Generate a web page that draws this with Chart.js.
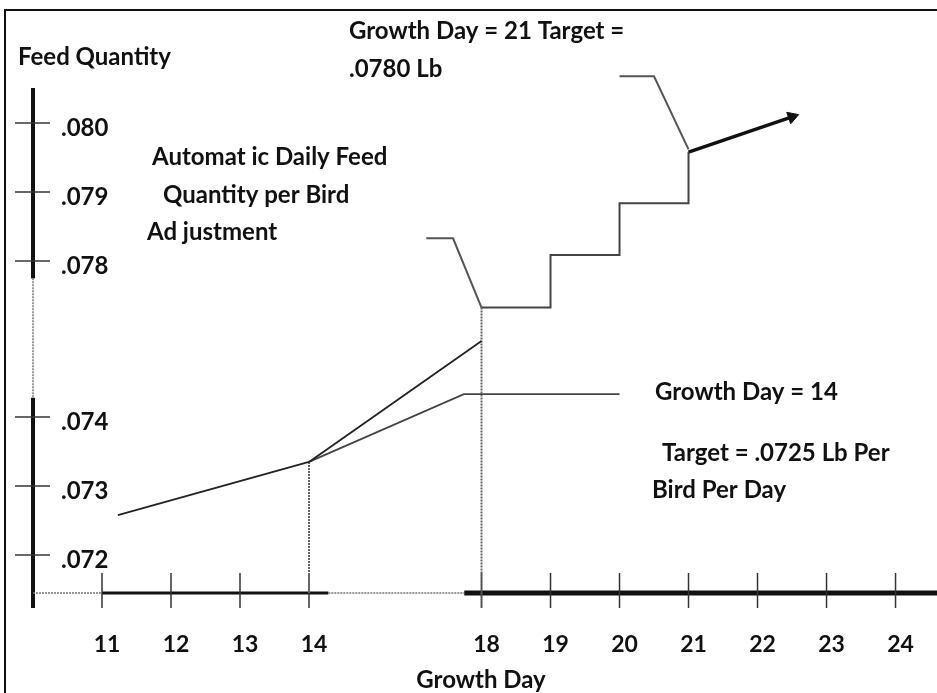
<!DOCTYPE html>
<html>
<head>
<meta charset="utf-8">
<script src="https://cdn.jsdelivr.net/npm/chart.js@4.4.1/dist/chart.umd.min.js"></script>
<style>
  body { margin: 0; background: #fff; }
  canvas { display: block; }
</style>
</head>
<body>
<canvas id="grafico" width="937" height="693"></canvas>
<script>
// eixos (rótulos)
const dayTicks = [11, 12, 13, 14, 18, 19, 20, 21, 22, 23, 24];
const qtyTicks = [0.072, 0.073, 0.074, 0.078, 0.079, 0.080];
const qtyLabels = ['.072', '.073', '.074', '.078', '.079', '.080'];

// séries (dia, quantidade em lb)
const baseDays = [11.23, 14];
const baseQty = [0.07258, 0.07335];
const adjustedDays = [14, 18];
const adjustedQty = [0.07335, 0.07595];
const targetDays = [14, 17.59, 20.0];
const targetQty = [0.07335, 0.07459, 0.07459];
const stepDays = [18, 19, 19, 20, 20, 21, 21];
const stepQty = [0.07681, 0.07681, 0.07809, 0.07809, 0.07884, 0.07884, 0.07958];
const arrowDays = [21, 22.5];
const arrowQty = [0.07958, 0.08009];
const leader1Days = [16.72, 17.34, 18];
const leader1Qty = [0.07833, 0.07833, 0.07681];
const leader2Days = [20.0, 20.5, 21];
const leader2Qty = [0.08068, 0.08068, 0.07962];

// eixos quebrados: 14 -> 18 e .074 -> .078 comprimidos
function dayPos(d) {
  if (d <= 14) return d - 11;
  if (d >= 18) return 5.5 + (d - 18);
  return 3 + (d - 14) / 4 * 2.5;
}
function qtyPos(q) {
  if (q <= 0.074) return (q - 0.072) * 1000;
  if (q >= 0.078) return 4.26 + (q - 0.078) * 1000;
  return 2 + (q - 0.074) / 0.004 * 2.26;
}
function serie(days, qty) {
  return days.map((d, i) => ({ x: dayPos(d), y: qtyPos(qty[i]) }));
}

const FONTE = 'bold 24px Lato';
const TINTA = '#111';

const desenho = {
  id: 'desenho',
  beforeDraw(chart) {
    const c = chart.ctx;
    c.save();
    c.fillStyle = '#fff';
    c.fillRect(0, 0, chart.width, chart.height);
    c.restore();
  },
  beforeDatasetsDraw(chart) {
    const c = chart.ctx;
    const sx = chart.scales.x, sy = chart.scales.y;
    const a = chart.chartArea;
    c.save();
    c.lineCap = 'butt';
    function seg(x1, y1, x2, y2, w, cor, dash) {
      c.beginPath();
      c.setLineDash(dash || []);
      c.lineWidth = w;
      c.strokeStyle = cor;
      c.moveTo(x1, y1);
      c.lineTo(x2, y2);
      c.stroke();
    }
    const ax = a.left, ay = a.bottom;
    // eixo y
    seg(ax, a.top, ax, sy.getPixelForValue(4.01), 4, '#111');
    seg(ax, sy.getPixelForValue(4.01), ax, sy.getPixelForValue(2.28), 1.5, '#777', [2, 1]);
    seg(ax, sy.getPixelForValue(2.28), ax, ay + 15, 4, '#111');
    // eixo x
    seg(ax, ay, sx.getPixelForValue(0), ay, 1.5, '#777', [2, 1]);
    seg(sx.getPixelForValue(0), ay, sx.getPixelForValue(3.28), ay, 3, '#111');
    seg(sx.getPixelForValue(3.28), ay, sx.getPixelForValue(5.25), ay, 1.5, '#777', [2, 1]);
    seg(sx.getPixelForValue(5.25), ay, chart.width, ay, 5, '#111');
    // marcas
    qtyTicks.forEach(q => {
      const y = sy.getPixelForValue(qtyPos(q));
      seg(ax - 18, y, ax + 17, y, 1.5, '#333');
    });
    dayTicks.forEach(d => {
      const x = sx.getPixelForValue(dayPos(d));
      seg(x, ay - 20, x, ay + 15, 1.5, '#333');
    });
    // guias verticais
    const x14 = sx.getPixelForValue(dayPos(14));
    const x18 = sx.getPixelForValue(dayPos(18));
    seg(x14, sy.getPixelForValue(qtyPos(adjustedQty[0])), x14, ay, 2, '#666', [2, 1]);
    seg(x18, sy.getPixelForValue(qtyPos(stepQty[0])), x18, ay + 15, 2, '#666', [2, 1]);
    c.restore();
  },
  afterDraw(chart) {
    const c = chart.ctx;
    c.save();
    // moldura
    c.strokeStyle = '#111';
    c.lineWidth = 2;
    c.beginPath();
    c.moveTo(5, 693);
    c.lineTo(5, 10);
    c.lineTo(937, 10);
    c.stroke();
    // textos
    c.font = FONTE;
    c.fillStyle = TINTA;
    c.textBaseline = 'middle';
    c.textAlign = 'left';
    const textos = [
      ['Feed Quantity', 18, 57],
      ['Growth Day = 21 Target =', 349, 31],
      ['.0780 Lb', 349, 69],
      ['Automat ic Daily Feed', 152, 157],
      ['Quantity per Bird', 163, 195],
      ['Ad justment', 147, 232],
      ['Growth Day = 14', 655, 392],
      ['Target = .0725 Lb Per', 662, 453],
      ['Bird Per Day', 652, 490]
    ];
    textos.forEach(t => c.fillText(t[0], t[1], t[2]));
    c.textAlign = 'center';
    c.fillText('Growth Day', 481, 680);
    c.restore();
  }
};

const linha = (data, cor, largura) => ({
  data, showLine: true, borderColor: cor, borderWidth: largura,
  pointRadius: 0, fill: false, tension: 0, clip: false
});

const arrowLine = linha(serie(arrowDays, arrowQty), '#111', 3.5);
arrowLine.pointRadius = [0, 7];
arrowLine.pointStyle = 'triangle';
arrowLine.rotation = 71;
arrowLine.pointBackgroundColor = '#111';
arrowLine.pointBorderColor = '#111';
arrowLine.pointBorderWidth = 1;

new Chart(document.getElementById('grafico'), {
  type: 'scatter',
  data: {
    datasets: [
      linha(serie(baseDays, baseQty), '#222', 1.8),
      linha(serie(adjustedDays, adjustedQty), '#222', 1.8),
      linha(serie(targetDays, targetQty), '#444', 1.8),
      linha(serie(stepDays, stepQty), '#444', 2),
      linha(serie(leader1Days, leader1Qty), '#555', 2),
      linha(serie(leader2Days, leader2Qty), '#555', 2),
      arrowLine
    ]
  },
  options: {
    responsive: false,
    animation: false,
    layout: { autoPadding: false, padding: { left: 33, top: 88, right: 0, bottom: 0 } },
    plugins: { legend: { display: false }, tooltip: { enabled: false } },
    scales: {
      x: {
        type: 'linear',
        min: -1,
        max: 12.101,
        grid: { display: false, drawTicks: false },
        border: { display: false },
        afterFit: s => { s.height = 100; s.paddingLeft = 0; s.paddingRight = 0; },
        afterBuildTicks: s => { s.ticks = dayTicks.map(d => ({ value: dayPos(d) })); },
        ticks: {
          padding: 38,
          labelOffset: 5,
          color: TINTA,
          font: { family: 'Lato', size: 23, weight: 'bold' },
          callback: v => {
            const i = dayTicks.findIndex(d => Math.abs(dayPos(d) - v) < 1e-6);
            return i < 0 ? '' : String(dayTicks[i]);
          }
        }
      },
      y: {
        type: 'linear',
        min: -0.55,
        max: 6.769,
        grid: { display: false, drawTicks: false },
        border: { display: false },
        afterFit: s => { s.width = 0; s.paddingTop = 0; s.paddingBottom = 0; },
        afterBuildTicks: s => { s.ticks = qtyTicks.map(q => ({ value: qtyPos(q) })); },
        ticks: {
          mirror: true,
          padding: 28,
          labelOffset: 5,
          color: TINTA,
          font: { family: 'Lato', size: 24, weight: 'bold' },
          callback: v => {
            const i = qtyTicks.findIndex(q => Math.abs(qtyPos(q) - v) < 1e-6);
            return i < 0 ? '' : qtyLabels[i];
          }
        }
      }
    }
  },
  plugins: [desenho]
});
</script>
</body>
</html>
